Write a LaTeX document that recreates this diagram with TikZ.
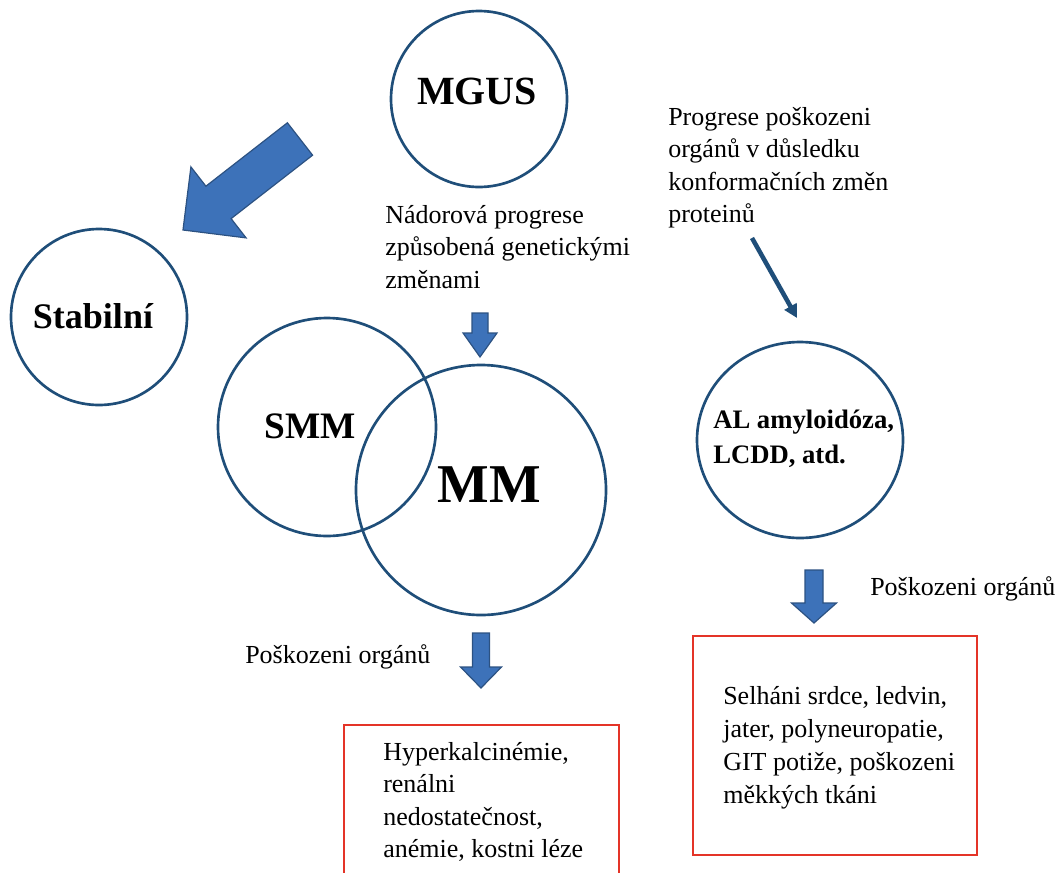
\documentclass[tikz,border=0pt]{standalone}
\usepackage{fontspec}
\setmainfont{Liberation Serif}
\usetikzlibrary{arrows.meta}
\definecolor{ringblue}{RGB}{31,78,121}
\definecolor{fillblue}{RGB}{61,114,185}
\definecolor{edgeblue}{RGB}{44,82,130}
\definecolor{boxred}{RGB}{228,52,40}
\newcommand\mylines[1]{\begin{tabular}[t]{@{}l@{}}#1\end{tabular}}
\newcommand\blockdown[6]{\draw[blockarrow] (#1-#5,#2) -- (#1+#5,#2) -- (#1+#5,#3) -- (#1+#6,#3) -- (#1,#4) -- (#1-#6,#3) -- (#1-#5,#3) -- cycle;}
\tikzset{
  ring/.style={circle, draw=ringblue, line width=2pt, inner sep=0pt},
  blockarrow/.style={fill=fillblue, draw=edgeblue, line width=0.9pt, line join=miter},
  redbox/.style={draw=boxred, line width=2pt},
  txt/.style={inner sep=0pt, anchor=base west, font=\fontsize{19.5}{24.4}\selectfont},
  boldtxt/.style={inner sep=0pt, anchor=base, font=\bfseries},
}
\begin{document}
\begin{tikzpicture}[x=0.75pt,y=-0.75pt]
\useasboundingbox (0,0) rectangle (1064,872);
% circles
\node[ring, minimum size=132pt] (mgus) at (479,99) {};
\node[ring, minimum size=132pt] (stab) at (99,317) {};
\node[ring, minimum size=163.5pt] (smm) at (327,427) {};
\node[ring, minimum size=187.5pt] (mm) at (481,490) {};
\draw[draw=ringblue, line width=2pt] (800,440) ellipse [x radius=103, y radius=98];
\coordinate (al) at (800,440);
% circle labels
\node[boldtxt, font=\fontsize{30}{36}\selectfont\bfseries] (mgustxt) at (477,104) {MGUS};
\node[boldtxt, font=\fontsize{27}{32}\selectfont\bfseries] (stabtxt) at (93,328) {Stabilní};
\node[boldtxt, font=\fontsize{28}{34}\selectfont\bfseries] (smmtxt) at (310,438) {SMM};
\node[boldtxt, font=\fontsize{41}{48}\selectfont\bfseries] (mmtxt) at (489,502) {MM};
\node[inner sep=0pt, anchor=base west, font=\fontsize{20}{26.25}\selectfont\bfseries] (altxt) at (713,428) {\mylines{AL amyloidóza,\\LCDD, atd.}};
% big arrow MGUS -> Stabilni
\draw[blockarrow] (287.4,122.8) -- (312.6,155.2) -- (231.1,218.6) -- (246.1,237.9) -- (183,230) -- (190.9,166.9) -- (205.9,186.2) -- cycle;
% down arrows
\blockdown{480}{313}{333}{357}{8}{17}
\blockdown{481}{633}{667}{688}{8.5}{20.5}
\blockdown{814}{570}{603}{623}{9}{22.5}
% thin arrow
\coordinate (thinA) at (752,238);
\coordinate (thinB) at (797,318);
\draw[draw=ringblue, line width=3.4pt, -{Triangle[length=10pt,width=10pt]}] (thinA) -- (thinB);
% texts
\node[txt] (midtxt) at (385,223) {\mylines{Nádorová progrese\\způsobená genetickými\\změnami}};
\node[txt] (toptxt) at (668,125) {\mylines{Progrese poškozeni\\orgánů v důsledku\\konformačních změn\\proteinů}};
\node[txt] (dmgL) at (245,663) {Poškozeni orgánů};
\node[txt] (dmgR) at (870,595) {Poškozeni orgánů};
% boxes
\draw[redbox] (344,725) rectangle (619,890);
\draw[redbox] (693,636) rectangle (977,855);
\node[txt] (lboxtxt) at (383,760) {\mylines{Hyperkalcinémie,\\renálni\\nedostatečnost,\\anémie, kostni léze}};
\node[txt, font=\fontsize{19.5}{24.75}\selectfont] (rboxtxt) at (723,704) {\mylines{Selháni srdce, ledvin,\\jater, polyneuropatie,\\GIT potiže, poškozeni\\měkkých tkáni}};
\end{tikzpicture}
\end{document}
